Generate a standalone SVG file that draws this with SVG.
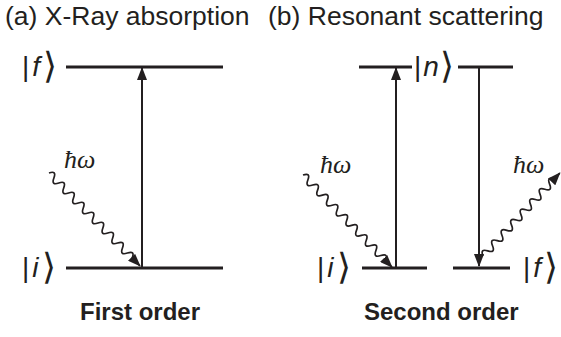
<svg xmlns="http://www.w3.org/2000/svg" width="561" height="337" viewBox="0 0 561 337">
<style>
.title{font-family:"Liberation Sans",Arial,sans-serif;font-size:26.5px;fill:#231f20}
.sub{font-family:"Liberation Sans",Arial,sans-serif;font-size:24px;font-weight:bold;fill:#231f20}
.ket{font-family:"Liberation Sans",Arial,sans-serif;font-size:28px;fill:#231f20}
.ket .v{font-style:italic}
.ket .b{font-family:"DejaVu Sans",sans-serif;font-size:36px;font-weight:300}
.hw{font-family:"Liberation Serif","Times New Roman",serif;font-style:italic;font-size:26px;fill:#231f20}
.level{stroke:#231f20;stroke-width:3;fill:none}
.trans{stroke:#231f20;stroke-width:2;fill:none;marker-end:url(#ah)}
.wave{stroke:#231f20;stroke-width:1.7;fill:none;marker-end:url(#ah)}
</style>
<defs>
<marker id="ah" markerUnits="userSpaceOnUse" markerWidth="13" markerHeight="10" refX="12" refY="5" orient="auto" viewBox="0 0 13 10">
<path d="M0,0 L13,5 L0,10 z" fill="#231f20"/>
</marker>
</defs>
<g id="titles">
<text class="title" x="5" y="25">(a) X-Ray absorption</text>
<text class="title" x="268" y="25">(b) Resonant scattering</text>
<text class="sub" x="80" y="320">First order</text>
<text class="sub" x="364" y="320">Second order</text>
</g>
<g id="a-f">
<line class="level" x1="66" y1="67" x2="223" y2="67"/>
<text class="ket" x="22" y="76">|<tspan class="v" dx="3">f</tspan><tspan class="b" dx="3" dy="2">⟩</tspan></text>
</g>
<g id="a-i">
<line class="level" x1="66" y1="268" x2="223" y2="268"/>
<text class="ket" x="22" y="277">|<tspan class="v" dx="3">i</tspan><tspan class="b" dx="3" dy="2">⟩</tspan></text>
</g>
<g id="a-photon">
<text class="hw" x="64" y="168">ħω</text>
</g>
<g id="b-n">
<line class="level" x1="359" y1="67" x2="412" y2="67"/>
<line class="level" x1="458" y1="67" x2="513" y2="67"/>
<text class="ket" x="414" y="76">|<tspan class="v" dx="2">n</tspan><tspan class="b" dx="1" dy="2">⟩</tspan></text>
</g>
<g id="b-i">
<line class="level" x1="362" y1="268" x2="427" y2="268"/>
<text class="ket" x="317" y="277">|<tspan class="v" dx="3">i</tspan><tspan class="b" dx="3" dy="2">⟩</tspan></text>
</g>
<g id="b-f">
<line class="level" x1="453" y1="268" x2="510" y2="268"/>
<text class="ket" x="523" y="277">|<tspan class="v" dx="3">f</tspan><tspan class="b" dx="3" dy="2">⟩</tspan></text>
</g>
<g id="b-photons">
<text class="hw" x="320" y="173">ħω</text>
<text class="hw" x="513" y="173">ħω</text>
</g>
<g id="connectors">
<line class="trans" x1="142" y1="268" x2="142" y2="68"/>
<line class="trans" x1="396" y1="268" x2="396" y2="68"/>
<line class="trans" x1="479" y1="68" x2="479" y2="266"/>
<path class="wave" transform="translate(49,173) rotate(45.6)" d="M0,0 q3.5,-7.5 7,0 t7,0 t7,0 t7,0 t7,0 t7,0 t7,0 t7,0 t7,0 t7,0 t7,0 t7,0 t7,0 t7,0 t7,0 t7,0 t7,0 l11,0"/>
<path class="wave" transform="translate(303,175) rotate(46)" d="M0,0 q3.5,-7.5 7,0 t7,0 t7,0 t7,0 t7,0 t7,0 t7,0 t7,0 t7,0 t7,0 t7,0 t7,0 t7,0 t7,0 t7,0 t7,0 t7,0 l9,0"/>
<path class="wave" transform="translate(483,256) rotate(-47.2)" d="M0,0 q3.5,-7.5 7,0 t7,0 t7,0 t7,0 t7,0 t7,0 t7,0 t7,0 t7,0 t7,0 t7,0 t7,0 t7,0 t7,0 t7,0 l8,0"/>
</g>
</svg>
